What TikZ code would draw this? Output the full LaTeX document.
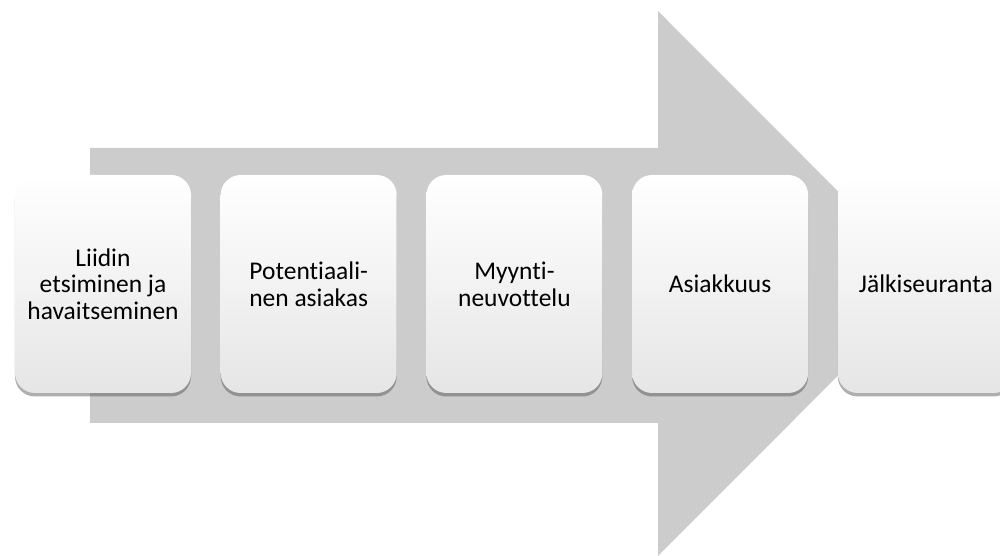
\documentclass[tikz,border=0pt]{standalone}
\usepackage{fontspec}
\setmainfont{Carlito}[RawFeature=-liga]
\usetikzlibrary{positioning,shadows}

\tikzset{
    stage/.style={rounded corners=0.4cm, minimum width=3.52cm, minimum height=4.36cm,
        top color=white, middle color=white, bottom color=black!10,
        drop shadow={shadow xshift=0cm, shadow yshift=-0.07cm, opacity=0.45, fill=black!70},
        align=center, font=\fontsize{14.5}{15.2}\selectfont, inner sep=2pt}
}

\begin{document}
\begin{tikzpicture}
            \useasboundingbox (0,0) rectangle (20,11.12);
            \fill[black!20] (1.8,8.16)--(13.16,8.16)--(13.16,10.9)--(18.6,5.45)--(13.16,0)--(13.16,2.66)--(1.8,2.66)--cycle;

            \node[stage] (lead) at (2.06,5.44) {Liidin\\etsiminen ja\\havaitseminen};
            \node[stage, right=0.58cm of lead] (prospect) {Potentiaali-\\nen asiakas};
            \node[stage, right=0.58cm of prospect] (negotiation) {Myynti-\\neuvottelu};
            \node[stage, right=0.58cm of negotiation] (customer) {Asiakkuus};
            \node[stage, right=0.58cm of customer] (followup) {Jälkiseuranta};
        \end{tikzpicture}
\end{document}
